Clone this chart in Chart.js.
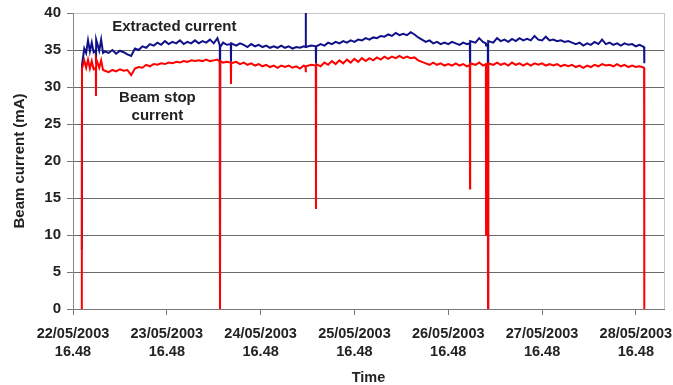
<!DOCTYPE html>
<html>
<head>
<meta charset="utf-8">
<script src="https://cdn.jsdelivr.net/npm/chart.js@4/dist/chart.umd.min.js"></script>
<style>
  html, body { margin: 0; padding: 0; background: #ffffff; }
  canvas { display: block; }
</style>
</head>
<body>
<canvas id="c" width="673" height="385"></canvas>
<script>
// Elapsed time in days since 22/05/2003 16.48
const timeDays = [
  0.094, 0.096, 0.12, 0.14, 0.16, 0.18, 0.20, 0.22, 0.243, 0.245, 0.247, 0.28, 0.30, 0.32,
  0.34, 0.38, 0.42, 0.46, 0.50, 0.54, 0.58, 0.62, 0.66, 0.70, 0.74, 0.78, 0.82,
  0.86, 0.90, 0.94, 0.98, 1.02, 1.06, 1.10, 1.14, 1.18, 1.22, 1.26, 1.30, 1.34,
  1.38, 1.42, 1.46, 1.50, 1.54, 1.565, 1.567, 1.569, 1.60, 1.64, 1.682, 1.684, 1.686,
  1.74, 1.78, 1.82, 1.86, 1.90, 1.94, 1.98, 2.02, 2.06, 2.10, 2.14, 2.18, 2.22,
  2.26, 2.30, 2.34, 2.38, 2.42, 2.46, 2.479, 2.481, 2.483, 2.54, 2.588, 2.590, 2.592,
  2.64, 2.68, 2.72, 2.76, 2.80, 2.84, 2.88, 2.92, 2.96, 3.00, 3.04, 3.08, 3.12, 3.16, 3.20,
  3.24, 3.28, 3.32, 3.36, 3.40, 3.44, 3.48, 3.52, 3.56, 3.60, 3.64, 3.68, 3.72,
  3.76, 3.80, 3.84, 3.88, 3.92, 3.96, 4.00, 4.04, 4.08, 4.12, 4.16, 4.20, 4.230, 4.232, 4.234,
  4.29, 4.33, 4.37, 4.401, 4.403, 4.405, 4.422, 4.424, 4.426, 4.48, 4.52, 4.56, 4.60,
  4.64, 4.68, 4.72, 4.76, 4.80, 4.84, 4.88, 4.92, 4.96, 5.00, 5.04, 5.08, 5.12,
  5.16, 5.20, 5.24, 5.28, 5.32, 5.36, 5.40, 5.44, 5.48, 5.52, 5.56, 5.60, 5.64,
  5.68, 5.72, 5.76, 5.80, 5.84, 5.88, 5.92, 5.96, 6.00, 6.04, 6.088, 6.090
];

// Extracted current (mA)
const extracted = [
  8.0, 33.0, 35.2, 34.6, 36.3, 34.8, 36.0, 34.7, 35.0, 33.2, 36.4, 34.9, 36.4, 34.6,
  34.8, 34.6, 35.0, 34.5, 34.9, 34.7, 34.4, 34.2, 35.2, 35.0, 35.5, 35.3, 35.8,
  35.6, 36.0, 35.7, 36.2, 35.8, 36.1, 35.9, 36.3, 35.8, 36.1, 35.9, 36.3, 35.9,
  36.2, 36.0, 36.4, 35.9, 36.6, 35.6, 0.0, 35.4, 36.0, 35.7, 35.8, 33.4, 35.9,
  35.6, 35.9, 35.7, 35.4, 35.8, 35.5, 35.7, 35.4, 35.6, 35.3, 35.5, 35.3, 35.6,
  35.3, 35.5, 35.2, 35.4, 35.3, 35.5, 35.4, 40.0, 35.4, 35.6, 35.5, 33.2, 35.5,
  35.8, 35.6, 36.0, 35.8, 36.1, 35.9, 36.2, 36.0, 36.3, 36.1, 36.4, 36.3, 36.6, 36.4, 36.7,
  36.6, 36.9, 36.8, 37.1, 36.9, 37.3, 37.0, 37.2, 37.0, 37.4, 37.1, 36.7, 36.4,
  36.1, 36.3, 35.9, 36.1, 35.8, 36.0, 35.8, 36.1, 35.9, 35.7, 36.0, 35.8, 35.9, 33.0, 36.2,
  36.0, 36.6, 36.1, 35.9, 35.6, 35.7, 35.8, 0.0, 36.2, 36.0, 36.6, 36.2, 36.4,
  36.1, 36.5, 36.2, 36.6, 36.3, 36.5, 36.3, 36.9, 36.4, 36.3, 36.8, 36.3, 36.4,
  36.2, 36.3, 36.1, 36.2, 36.0, 35.8, 36.0, 35.6, 35.9, 35.7, 36.1, 35.8, 36.4,
  35.8, 36.0, 35.7, 35.9, 35.6, 35.9, 35.7, 35.8, 35.5, 35.7, 35.4, 33.2
];

// Beam stop current (mA)
const beamStop = [
  0.0, 32.5, 33.6, 32.6, 33.7, 32.5, 33.5, 32.4, 32.6, 28.8, 33.8, 32.6, 33.6, 32.3,
  32.2, 32.0, 32.3, 32.1, 32.4, 32.2, 32.3, 31.6, 32.5, 32.7, 32.6, 33.0, 32.8,
  33.1, 33.0, 33.2, 33.1, 33.3, 33.2, 33.4, 33.3, 33.5, 33.4, 33.6, 33.5, 33.6,
  33.5, 33.7, 33.5, 33.6, 33.7, 33.4, 0.0, 33.5, 33.3, 33.4, 33.3, 30.4, 33.2,
  33.4, 33.1, 33.3, 33.0, 33.2, 32.9, 33.1, 32.8, 33.0, 32.7, 32.9, 32.6, 32.9,
  32.7, 32.9, 32.6, 32.8, 32.5, 32.9, 32.7, 32.0, 32.8, 33.0, 32.9, 13.5, 33.1,
  32.8, 33.3, 33.0, 33.5, 33.1, 33.6, 33.2, 33.7, 33.3, 33.8, 33.4, 33.9, 33.5, 33.9, 33.6,
  34.0, 33.7, 34.1, 33.8, 34.1, 33.9, 34.2, 33.9, 34.1, 33.9, 34.0, 33.6, 33.4,
  33.2, 33.0, 33.3, 33.0, 33.2, 32.9, 33.1, 32.9, 33.2, 32.9, 33.1, 32.8, 33.0, 16.3, 33.2,
  33.0, 33.3, 32.9, 33.1, 10.0, 33.0, 33.1, 0.0, 33.2, 33.0, 33.3, 33.0, 33.2,
  32.9, 33.3, 33.0, 33.2, 32.9, 33.2, 32.9, 33.2, 33.0, 33.2, 32.9, 33.1, 32.9,
  33.1, 32.8, 33.0, 32.8, 33.0, 32.7, 32.9, 32.6, 32.9, 32.7, 33.0, 32.8, 33.1,
  32.9, 33.0, 32.8, 33.1, 32.8, 33.0, 32.7, 32.9, 32.7, 32.8, 32.6, 0.0
];

// Axis tick labels, one per day
const dayLabels = [
  ['22/05/2003', '16.48'], ['23/05/2003', '16.48'], ['24/05/2003', '16.48'],
  ['25/05/2003', '16.48'], ['26/05/2003', '16.48'], ['27/05/2003', '16.48'],
  ['28/05/2003', '16.48']
];

// In-plot captions: text lines and their anchor in data units
const captionText = ['Extracted current', 'Beam stop', 'current'];
const captionDay = [1.08, 0.90, 0.90];
const captionMA = [38.1, 28.6, 26.1];

const toPoints = (ys) => timeDays.map((t, i) => ({ x: t, y: ys[i] }));

Chart.defaults.font.family = '"Liberation Sans", Arial, sans-serif';
Chart.defaults.color = '#222';

const plotFrame = {
  id: 'plotFrame',
  beforeDatasetsDraw(chart) {
    const { ctx, chartArea: a } = chart;
    ctx.save();
    ctx.strokeStyle = '#c8c8c8';
    ctx.lineWidth = 1;
    ctx.beginPath();
    ctx.moveTo(Math.round(a.right) + 0.5, a.top);
    ctx.lineTo(Math.round(a.right) + 0.5, a.bottom);
    ctx.stroke();
    ctx.restore();
  }
};

const captions = {
  id: 'captions',
  afterDatasetsDraw(chart) {
    const { ctx, scales: { x, y } } = chart;
    ctx.save();
    ctx.fillStyle = '#222';
    ctx.font = 'bold 15px "Liberation Sans", Arial, sans-serif';
    ctx.textAlign = 'center';
    ctx.textBaseline = 'middle';
    captionText.forEach((s, i) => {
      ctx.fillText(s, x.getPixelForValue(captionDay[i]), y.getPixelForValue(captionMA[i]));
    });
    ctx.restore();
  }
};

new Chart(document.getElementById('c'), {
  type: 'line',
  data: {
    datasets: [
      {
        label: 'Beam stop current',
        data: toPoints(beamStop),
        borderColor: '#ff0000',
        borderWidth: 2,
        order: 0
      },
      {
        label: 'Extracted current',
        data: toPoints(extracted),
        borderColor: '#10108a',
        borderWidth: 2,
        order: 1
      }
    ]
  },
  options: {
    responsive: false,
    animation: false,
    devicePixelRatio: 1,
    layout: { padding: { top: 13, right: 9, left: 11, bottom: 0 } },
    elements: { point: { radius: 0 }, line: { tension: 0 } },
    plugins: { legend: { display: false }, tooltip: { enabled: false } },
    scales: {
      x: {
        type: 'linear',
        min: 0,
        max: 6.3,
        afterBuildTicks(scale) {
          scale.ticks = dayLabels.map((_, i) => ({ value: i }));
        },
        afterFit(scale) {
          scale.height = 76;
          scale.paddingLeft = 0;
          scale.paddingRight = 0;
        },
        ticks: {
          autoSkip: false,
          maxRotation: 0,
          padding: 10,
          font: { size: 14.5, weight: 'bold', lineHeight: 1.25 },
          color: '#222',
          callback: (v) => dayLabels[v]
        },
        grid: { drawOnChartArea: false, tickLength: 6, color: '#777' },
        border: { color: '#777', width: 1 },
        title: {
          display: true,
          text: 'Time',
          font: { size: 14.5, weight: 'bold', lineHeight: 1.0 },
          color: '#222',
          padding: 0
        }
      },
      y: {
        min: 0,
        max: 40,
        afterFit(scale) {
          scale.width = 62;
          scale.paddingTop = 0;
          scale.paddingBottom = 0;
        },
        ticks: {
          stepSize: 5,
          padding: 6,
          font: { size: 15, weight: 'bold' },
          color: '#222'
        },
        grid: {
          tickLength: 6,
          color: (c) => (c.tick && c.tick.value === 40 ? '#c8c8c8' : '#6a6a6a'),
          tickColor: '#777',
          lineWidth: 1
        },
        border: { color: '#888', width: 1 },
        title: {
          display: true,
          text: 'Beam current (mA)',
          font: { size: 15, weight: 'bold', lineHeight: 1.2 },
          color: '#222',
          padding: 0
        }
      }
    }
  },
  plugins: [plotFrame, captions]
});
</script>
</body>
</html>
